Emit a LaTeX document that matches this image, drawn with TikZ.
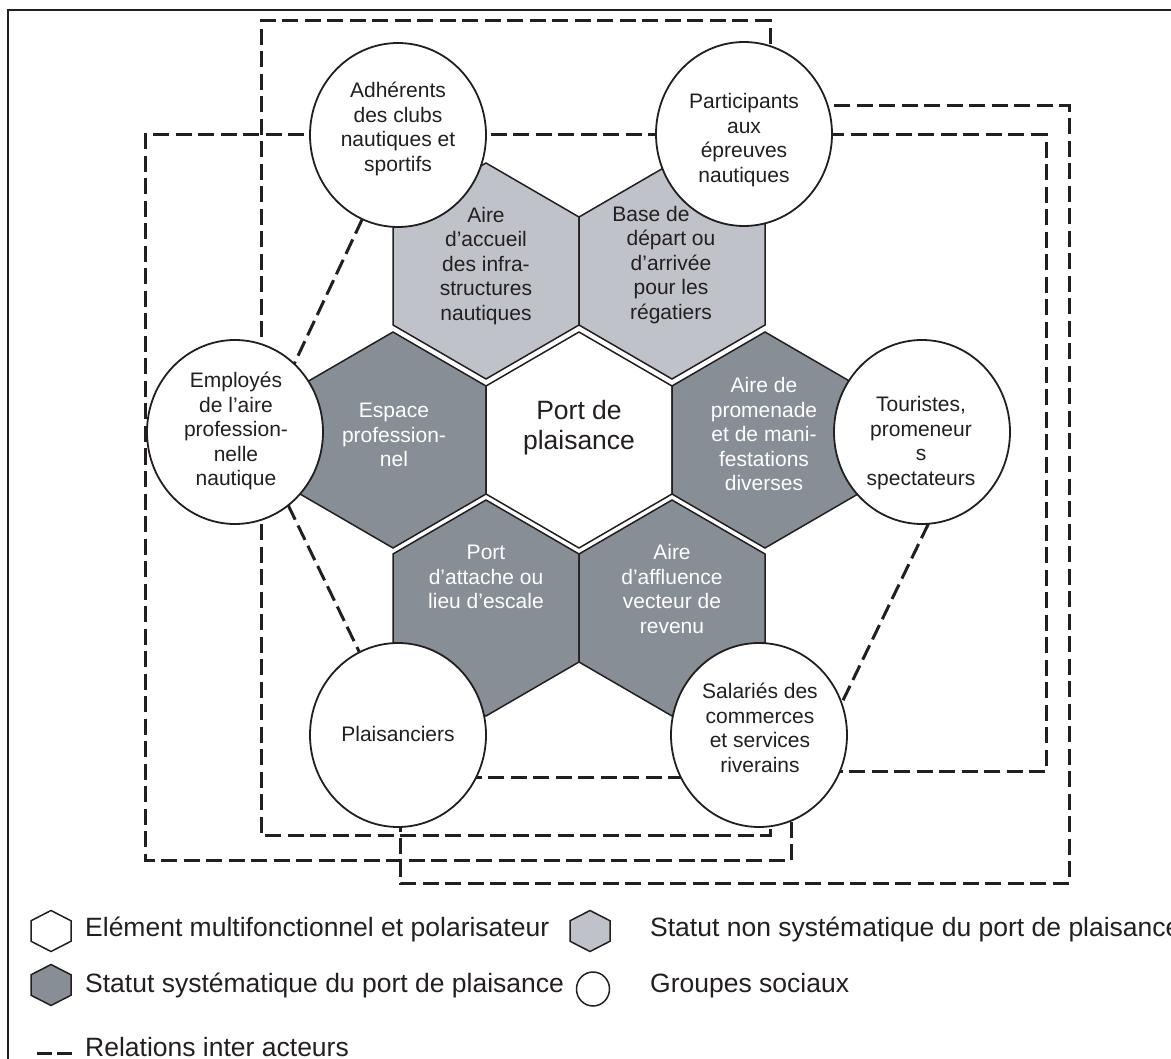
\documentclass[tikz,border=0pt]{standalone}
\usepackage{fontspec}
\setmainfont{Liberation Sans}
\usetikzlibrary{calc,shapes.geometric}
\pgfdeclarelayer{back}
\pgfsetlayers{back,main}

\definecolor{ink}{RGB}{35,31,32}
\definecolor{hexlight}{RGB}{191,195,201}
\definecolor{hexdark}{RGB}{136,142,150}

% pointy-topped hexagon: #1 style, #2 centre, #3 half width, #4 half height
\newcommand{\hexcell}[4]{%
  \path[#1] ($(#2)+(0,-#4)$) -- ($(#2)+(#3,-#4/2)$) -- ($(#2)+(#3,#4/2)$)
    -- ($(#2)+(0,#4)$) -- ($(#2)+(-#3,#4/2)$) -- ($(#2)+(-#3,-#4/2)$) -- cycle;}

\begin{document}
\begin{tikzpicture}[x=1pt,y=-1pt,
  frameline/.style={draw=ink, line width=2.2pt},
  rel/.style={draw=ink, line width=3pt, dash pattern=on 16pt off 6.5pt},
  cellwhite/.style={fill=white, draw=ink, line width=1.5pt},
  celllight/.style={fill=hexlight, draw=ink, line width=1.5pt},
  celldark/.style={fill=hexdark, draw=ink, line width=1.5pt},
  group/.style={ellipse, draw=ink, fill=white, line width=1.8pt,
    minimum width=176pt, minimum height=184pt, inner sep=0pt, outer sep=0pt},
  txt/.style={font=\fontsize{21}{24.5}\selectfont, align=center, inner sep=0pt, text=ink},
  txtw/.style={txt, text=white},
  bigtxt/.style={font=\fontsize{26.5}{30}\selectfont, align=center, inner sep=0pt, text=ink},
  legtxt/.style={font=\fontsize{26.5}{30}\selectfont, anchor=base west, inner sep=0pt, text=ink},
  legdash/.style={draw=ink, line width=3pt, dash pattern=on 15pt off 5pt},
]
\useasboundingbox (0,0) rectangle (1171,1059);

% centres of the honeycomb cells
\coordinate (hTL) at (486,271);
\coordinate (hTR) at (672,271);
\coordinate (hL)  at (393,440);
\coordinate (hC)  at (579,440);
\coordinate (hR)  at (765,440);
\coordinate (hBL) at (486,608);
\coordinate (hBR) at (672,608);

% social groups
\node[group] (adh) at (398,135) {};
\node[group] (par) at (744,134) {};
\node[group] (emp) at (235,432) {};
\node[group] (tou) at (922,432) {};
\node[group] (pla) at (398,735) {};
\node[group] (sal) at (759,735) {};

% corners of the relation loops
\coordinate (a1) at (770,21);
\coordinate (a2) at (261,21);
\coordinate (a3) at (261,835);
\coordinate (a4) at (770,835);
\coordinate (b1) at (1046,771);
\coordinate (b2) at (1046,135);
\coordinate (b3) at (145,135);
\coordinate (b4) at (145,860);
\coordinate (b5) at (791,860);
\coordinate (c1) at (1069,106);
\coordinate (c2) at (1069,883);
\coordinate (c3) at (400,883);
\coordinate (fr) at (8,10);

\begin{pgfonlayer}{back}
  % outer frame
  \draw[frameline] (1190,10) -- (fr) -- (8,1080);
  % honeycomb
  \hexcell{celllight}{hTL}{93}{108}
  \hexcell{celllight}{hTR}{93}{108}
  \hexcell{celldark}{hL}{93}{108}
  \hexcell{cellwhite}{hC}{93}{108}
  \hexcell{celldark}{hR}{93}{108}
  \hexcell{celldark}{hBL}{93}{108}
  \hexcell{celldark}{hBR}{93}{108}
  % relations between actors
  \draw[rel] (a1 |- par.center) -- (a1) -- (a2) -- (a3) -- (a4) -- (a4 |- sal.center);
  \draw[rel] (sal.center |- b1) -- (b1) -- (b2) -- (b3) -- (b4) -- (b5) -- (b5 |- sal.center);
  \draw[rel] (par.center |- c1) -- (c1) -- (c2) -- (c3) -- (c3 |- pla.center);
  \draw[rel] ($(pla.center)+(0,42)$) -- ($(sal.center)+(0,42)$);
  \draw[rel] (adh.247) -- (emp.49);
  \draw[rel] (emp.306) -- (pla.115);
  \draw[rel] (tou.274) -- (sal.21);
\end{pgfonlayer}

% labels of the groups
\node[txt] (adhT) at (398,129) {Adhérents\\des clubs\\nautiques et\\sportifs};
\node[txt] (parT) at (744,140) {Participants\\aux\\épreuves\\nautiques};
\node[txt] (empT) at (236,431) {Employés\\de l’aire\\profession-\\nelle\\nautique};
\node[txt] (touT) at (921,443) {Touristes,\\promeneur\\s\\spectateurs};
\node[txt] (plaT) at (398,734) {Plaisanciers};
\node[txt] (salT) at (760,728) {Salariés des\\commerces\\et services\\riverains};

% labels of the cells
\node[txt]  (tTL) at (486,266) {Aire\\d’accueil\\des infra-\\structures\\nautiques};
\node[txt]  (tTR) at (671,265) {Base de\hspace*{40pt}\\départ ou\\d’arrivée\\pour les\\régatiers};
\node[txtw] (tL)  at (394,435) {Espace\\profession-\\nel};
\node[bigtxt] (tC) at (579,428) {Port de\\plaisance};
\node[txtw] (tR)  at (764,434) {Aire de\\promenade\\et de mani-\\festations\\diverses};
\node[txtw] (tBL) at (486,577) {Port\\d’attache ou\\lieu d’escale};
\node[txtw] (tBR) at (672,589) {Aire\\d’affluence\\vecteur de\\revenu};

% legend
\coordinate (lgW) at (51,931);
\coordinate (lgL) at (590,931);
\coordinate (lgD) at (51,985);
\hexcell{cellwhite}{lgW}{20}{20.5}
\hexcell{celllight}{lgL}{20}{20.5}
\hexcell{celldark}{lgD}{20}{20.5}
\node[ellipse, draw=ink, fill=white, line width=1.5pt, minimum width=33pt,
  minimum height=34pt, inner sep=0pt] (lgG) at (593,989) {};
\coordinate (lgR1) at (37,1053);
\coordinate (lgR2) at (72,1053);
\draw[legdash] (lgR1) -- (lgR2);

\node[legtxt] (l1) at (85,936) {Elément multifonctionnel et polarisateur};
\node[legtxt] (l2) at (650,936) {Statut non systématique du port de plaisance};
\node[legtxt] (l3) at (85,992) {Statut systématique du port de plaisance};
\node[legtxt] (l4) at (650,992) {Groupes sociaux};
\node[legtxt] (l5) at (85,1056) {Relations inter acteurs};
\end{tikzpicture}
\end{document}
